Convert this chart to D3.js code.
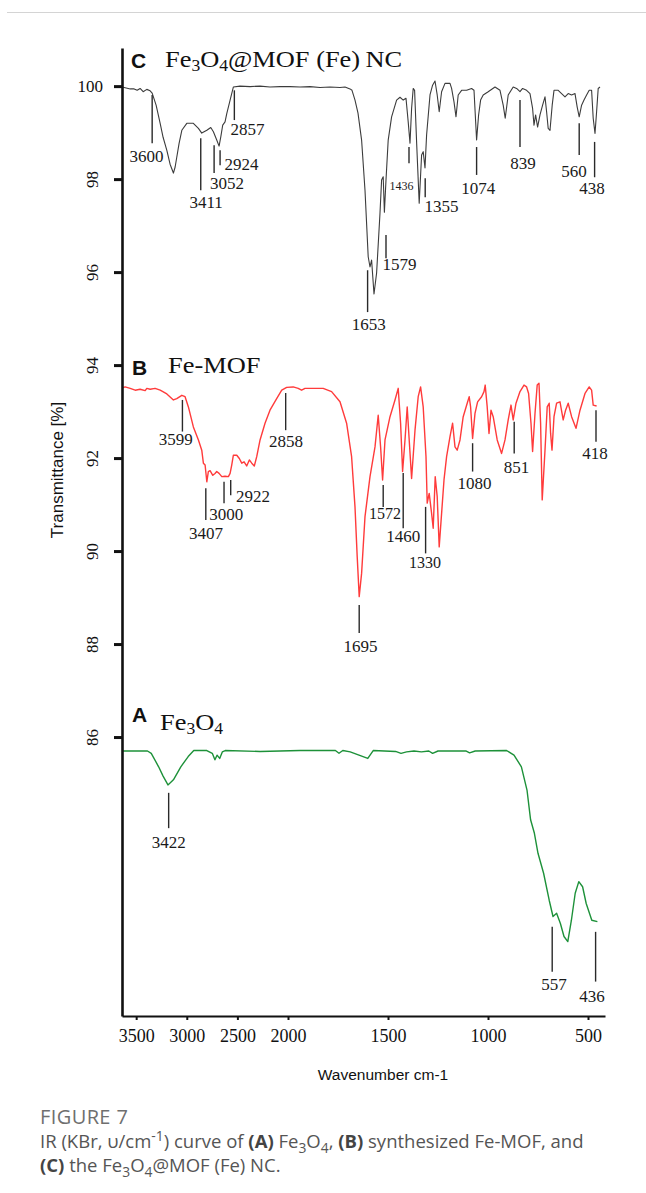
<!DOCTYPE html>
<html>
<head>
<meta charset="utf-8">
<script src="https://cdn.jsdelivr.net/npm/d3@7"></script>
<style>
  html, body { margin: 0; padding: 0; background: #fff; }
  body { width: 646px; height: 1193px; position: relative; overflow: hidden; }
  svg { position: absolute; left: 0; top: 0; }
  .caption { position: absolute; left: 40px; top: 1105px; font-family: "Open Sans", sans-serif;
             color: #555; font-size: 18.5px; line-height: 24px; }
  .caption .fig { color: #6f6f6f; font-size: 20px; letter-spacing: 0.4px; }
  .caption sub, .caption sup { font-size: 75%; line-height: 0; }
  .caption b { color: #444; }
</style>
</head>
<body>
<svg id="chart" width="646" height="1193"></svg>
<div class="caption">
  <div class="fig">FIGURE 7</div>
  IR (KBr, υ/cm<sup>-1</sup>) curve of <b>(A)</b> Fe<sub>3</sub>O<sub>4</sub>, <b>(B)</b> synthesized Fe-MOF, and<br>
  <b>(C)</b> the Fe<sub>3</sub>O<sub>4</sub>@MOF (Fe) NC.
</div>
<script>
// ---- axis ticks ----
const xTicks = [3500, 3000, 2500, 2000, 1500, 1000, 500];
const yTicks = [86, 88, 90, 92, 94, 96, 98, 100];

// ---- spectra: [wavenumber (cm-1), transmittance (%)] ----
const specC = [
  [3638,99.98],[3599,99.96],[3559,99.94],[3520,99.94],[3490,99.91],[3461,99.95],[3431,99.88],
  [3395,99.93],[3362,99.90],[3342,99.85],[3303,99.59],[3263,99.20],[3234,98.90],[3197,98.62],
  [3165,98.32],[3132,98.13],[3115,98.26],[3099,98.47],[3076,98.77],[3049,99.05],[3000,99.20],
  [2935,99.20],[2885,99.09],[2852,98.99],[2802,99.05],[2763,99.11],[2737,99.02],[2704,98.84],
  [2681,98.71],[2664,98.91],[2645,99.16],[2622,99.23],[2605,99.41],[2572,99.70],[2540,99.98],
  [2474,100.00],[2375,99.99],[2276,100.00],[2178,99.98],[2079,99.99],[1990,99.99],[1940,99.98],
  [1890,99.99],[1840,99.97],[1790,99.98],[1740,99.97],[1715,99.98],[1690,99.94],[1680,99.91],
  [1665,99.70],[1650,99.42],[1632,98.84],[1615,97.76],[1599,96.33],[1590,96.11],[1582,96.26],
  [1570,95.53],[1557,95.98],[1540,97.27],[1532,97.98],[1524,98.05],[1518,97.29],[1510,97.98],
  [1499,98.84],[1482,99.34],[1457,99.70],[1440,99.76],[1424,99.70],[1410,99.74],[1399,99.23],
  [1390,98.77],[1382,99.52],[1374,99.95],[1367,99.91],[1357,98.80],[1344,97.48],[1332,98.52],
  [1324,98.59],[1315,98.24],[1307,98.95],[1290,99.81],[1277,100.02],[1265,100.11],[1254,99.81],
  [1244,99.45],[1232,99.88],[1215,100.06],[1190,100.06],[1182,99.95],[1170,99.66],[1160,99.34],
  [1149,99.81],[1132,99.91],[1107,99.91],[1082,99.95],[1070,99.91],[1057,98.84],[1047,99.38],
  [1037,99.70],[1024,99.81],[999,99.88],[965,99.98],[940,99.91],[924,99.59],[914,99.31],
  [899,99.81],[874,99.98],[857,99.95],[840,99.88],[827,99.95],[807,99.91],[790,99.84],
  [777,99.52],[770,99.16],[762,99.38],[752,99.12],[740,99.38],[727,99.59],[715,99.77],
  [707,99.45],[699,99.09],[690,99.05],[679,99.59],[670,99.91],[649,99.91],[632,99.84],
  [615,99.77],[599,99.84],[582,99.81],[565,99.84],[554,99.55],[544,99.34],[532,99.59],
  [520,99.70],[507,99.81],[494,99.91],[482,99.91],[474,99.31],[465,98.98],[457,99.45],
  [449,99.95],[440,99.98]
];

const specB = [
  [3638,93.51],[3609,93.53],[3559,93.50],[3510,93.46],[3461,93.48],[3411,93.45],[3395,93.50],
  [3362,93.48],[3313,93.50],[3263,93.46],[3197,93.38],[3132,93.25],[3099,93.28],[3049,93.35],
  [3017,93.32],[2984,93.10],[2935,92.67],[2885,92.39],[2852,92.17],[2836,91.89],[2819,91.85],
  [2802,91.49],[2787,91.71],[2770,91.73],[2743,91.63],[2721,91.67],[2704,91.71],[2681,91.67],
  [2654,91.60],[2622,91.61],[2589,91.60],[2572,91.67],[2556,91.85],[2540,92.06],[2506,92.06],
  [2481,91.99],[2457,91.89],[2434,91.92],[2408,91.83],[2382,91.96],[2358,91.89],[2333,91.83],
  [2309,92.03],[2276,92.39],[2227,92.75],[2178,93.03],[2112,93.28],[2062,93.46],[2013,93.52],
  [1974,93.53],[1949,93.50],[1932,93.46],[1915,93.50],[1874,93.50],[1824,93.50],[1782,93.43],
  [1740,93.21],[1707,92.75],[1682,92.03],[1665,90.95],[1654,89.88],[1644,89.02],[1632,89.52],
  [1615,90.74],[1590,91.60],[1565,92.24],[1549,92.92],[1537,92.24],[1527,91.53],[1515,92.39],
  [1490,92.89],[1465,93.25],[1449,93.50],[1437,92.75],[1427,91.71],[1415,92.39],[1404,93.10],
  [1394,92.39],[1382,91.56],[1365,92.60],[1349,93.32],[1337,93.53],[1324,93.10],[1310,92.03],
  [1304,91.03],[1294,91.24],[1282,90.81],[1274,90.49],[1264,91.60],[1254,91.17],[1244,90.09],
  [1232,90.81],[1220,91.53],[1207,92.03],[1190,92.46],[1177,92.75],[1165,92.24],[1154,92.17],
  [1140,92.39],[1124,92.89],[1104,93.18],[1094,93.32],[1087,93.10],[1077,92.42],[1065,92.96],
  [1052,93.21],[1032,93.32],[1020,93.43],[1014,93.57],[1004,93.10],[995,92.53],[985,93.03],
  [974,92.89],[954,92.39],[932,92.10],[915,92.39],[899,92.82],[885,93.14],[874,92.82],
  [860,93.18],[840,93.43],[820,93.57],[807,93.53],[797,93.39],[785,92.75],[777,92.14],
  [765,92.96],[754,93.57],[745,93.61],[737,92.75],[729,91.10],[715,92.17],[704,93.10],
  [694,93.18],[687,92.53],[680,92.17],[670,92.89],[657,93.18],[640,93.21],[624,92.82],
  [612,93.03],[599,93.18],[582,92.89],[560,92.64],[540,93.03],[515,93.39],[494,93.53],
  [482,93.46],[474,93.14],[457,93.12]
];

const specA = [
  [3638,85.70],[3388,85.70],[3351,85.65],[3278,85.36],[3234,85.16],[3186,84.97],[3132,85.08],
  [3059,85.36],[2986,85.58],[2931,85.71],[2802,85.71],[2748,85.65],[2722,85.51],[2701,85.61],
  [2675,85.54],[2649,85.68],[2620,85.71],[2276,85.69],[1940,85.71],[1763,85.71],[1745,85.65],
  [1726,85.71],[1689,85.68],[1601,85.54],[1574,85.71],[1462,85.69],[1435,85.65],[1407,85.68],
  [1370,85.70],[1333,85.68],[1296,85.70],[1277,85.65],[1250,85.70],[1111,85.70],[1092,85.66],
  [1064,85.70],[907,85.71],[870,85.61],[833,85.36],[805,84.86],[787,84.22],[768,83.93],
  [750,83.50],[722,83.07],[694,82.49],[675,82.14],[657,82.21],[638,81.99],[620,81.71],
  [601,81.60],[583,82.06],[564,82.64],[546,82.89],[527,82.78],[509,82.42],[481,82.06],
  [453,82.03]
];

// ---- band labels: wavenumber text, leader (at, top..bottom) and label anchor (tx, ty) ----
const peaksC = [
  {label:"3600", at:3342, top:99.81, bottom:98.77, tx:3397, ty:98.37},
  {label:"3411", at:2862, top:98.88, bottom:97.76, tx:2809, ty:97.38},
  {label:"3052", at:2730, top:98.73, bottom:98.13, tx:2602, ty:97.78},
  {label:"2924", at:2671, top:98.62, bottom:98.30, tx:2459, ty:98.19},
  {label:"2857", at:2530, top:99.91, bottom:99.27, tx:2400, ty:98.95},
  {label:"1653", at:1602, top:96.04, bottom:95.14, tx:1596, ty:94.75},
  {label:"1579", at:1510, top:96.80, bottom:96.30, tx:1442, ty:96.04},
  {label:"1436", at:1395, top:98.69, bottom:98.34, tx:1432, ty:97.76},
  {label:"1355", at:1314, top:98.02, bottom:97.61, tx:1232, ty:97.30},
  {label:"1074", at:1057, top:98.69, bottom:98.09, tx:1049, ty:97.68},
  {label:"839",  at:840,  top:99.70, bottom:98.69, tx:825,  ty:98.21},
  {label:"560",  at:544,  top:99.20, bottom:98.52, tx:570,  ty:98.05},
  {label:"438",  at:467,  top:98.80, bottom:98.04, tx:480,  ty:97.68}
];
const peaksB = [
  {label:"3599", at:3043, top:93.25, bottom:92.57, tx:3110, ty:92.28},
  {label:"3407", at:2812, top:91.35, bottom:90.67, tx:2809, ty:90.25},
  {label:"3000", at:2632, top:91.49, bottom:91.03, tx:2609, ty:90.67},
  {label:"2922", at:2566, top:91.53, bottom:91.20, tx:2345, ty:91.05},
  {label:"2858", at:2023, top:93.40, bottom:92.60, tx:2020, ty:92.24},
  {label:"1695", at:1644, top:88.84, bottom:88.24, tx:1638, ty:87.83},
  {label:"1572", at:1524, top:91.42, bottom:90.95, tx:1515, ty:90.68},
  {label:"1460", at:1424, top:91.68, bottom:90.49, tx:1424, ty:90.20},
  {label:"1330", at:1312, top:90.95, bottom:89.95, tx:1315, ty:89.63},
  {label:"1080", at:1077, top:92.32, bottom:91.71, tx:1067, ty:91.33},
  {label:"851",  at:869,  top:92.78, bottom:92.10, tx:857,  ty:91.67},
  {label:"418",  at:460,  top:93.03, bottom:92.35, tx:465,  ty:91.97}
];
const peaksA = [
  {label:"3422", at:3179, top:84.80, bottom:84.04, tx:3179, ty:83.61},
  {label:"557",  at:679,  top:81.92, bottom:80.95, tx:670,  ty:80.56},
  {label:"436",  at:462,  top:81.81, bottom:80.74, tx:480,  ty:80.31}
];
const smallLabels = new Set(["1436"]);
const mediumLabels = new Set(["1572", "1330"]);

// ---- panel titles ----
const titleC = ["C", [["Fe"], ["3", "sub"], ["O"], ["4", "sub"], ["@MOF (Fe)\u2009NC"]]];
const titleB = ["B", [["Fe-MOF"]]];
const titleA = ["A", [["Fe"], ["3", "sub"], ["O"], ["4", "sub"]]];

// ---- layout ----
const W = 646, H = 1193;
const plot = { left: 122, split: 288, right: 605, top: 48, bottom: 1016 };
const serif = "'Liberation Serif', 'Times New Roman', serif";
const sans = "'Liberation Sans', Arial, sans-serif";

const svg = d3.select("#chart").attr("width", W).attr("height", H);

// frame rule at the top of the figure box
svg.append("line").attr("x1", 7).attr("x2", W).attr("y1", 12.5).attr("y2", 12.5)
  .attr("stroke", "#d4d4d4").attr("stroke-width", 1.2);

// wavenumber axis is compressed above 2000 cm-1
const x = d3.scaleLinear().domain([3640, 2000, 415]).range([plot.left, plot.split, plot.right]);
const y = d3.scaleLinear().domain([80, 100.82]).range([plot.bottom, plot.top]);

// spectra
const line = d3.line().x(d => x(d[0])).y(d => y(d[1]));
const series = [
  { data: specA, color: "#1d9139", width: 1.4 },
  { data: specB, color: "#ff3b3b", width: 1.4 },
  { data: specC, color: "#3c3c3c", width: 1.1 }
];
svg.append("g").selectAll("path").data(series).join("path")
  .attr("d", d => line(d.data))
  .attr("fill", "none")
  .attr("stroke", d => d.color)
  .attr("stroke-width", d => d.width)
  .attr("stroke-linejoin", "round");

// x axis
const gx = svg.append("g").attr("transform", `translate(0,${plot.bottom})`)
  .call(d3.axisBottom(x).tickValues(xTicks).tickSize(4).tickSizeOuter(0).tickPadding(9).tickFormat(d3.format("d")));
gx.select(".domain").attr("stroke", "#111").attr("stroke-width", 2);
gx.selectAll(".tick line").attr("stroke", "#111").attr("stroke-width", 2);
gx.selectAll(".tick text").attr("font-family", serif).attr("font-size", 18).attr("fill", "#111");

// y axis
const gy = svg.append("g").attr("transform", `translate(${plot.left},0)`)
  .call(d3.axisLeft(y).tickValues(yTicks).tickSize(8).tickSizeOuter(0).tickFormat(d3.format("d")));
gy.select(".domain").attr("stroke", "#111").attr("stroke-width", 2.6);
gy.selectAll(".tick line").attr("stroke", "#111").attr("stroke-width", 3);
gy.selectAll(".tick text")
  .attr("font-family", serif).attr("font-size", 17).attr("fill", "#111")
  .each(function (d) {
    const t = d3.select(this);
    if (d === 100) {
      t.attr("x", -19).attr("dy", "0.32em").attr("text-anchor", "end");
    } else {
      t.attr("x", null).attr("dy", null).attr("text-anchor", "middle")
        .attr("transform", "translate(-24,0) rotate(-90)");
    }
  });

// axis titles
svg.append("text").attr("transform", "translate(63,470) rotate(-90)")
  .attr("text-anchor", "middle").attr("font-family", sans).attr("font-size", 17)
  .attr("fill", "#111").text("Transmittance [%]");
svg.append("text").attr("x", 383).attr("y", 1080)
  .attr("text-anchor", "middle").attr("font-family", sans).attr("font-size", 15.5)
  .attr("fill", "#111").text("Wavenumber cm-1");

// band annotations
function annotate(peaks) {
  const g = svg.append("g");
  g.selectAll("line").data(peaks).join("line")
    .attr("x1", d => x(d.at)).attr("x2", d => x(d.at))
    .attr("y1", d => y(d.top)).attr("y2", d => y(d.bottom))
    .attr("stroke", "#2a2a2a").attr("stroke-width", 1.4);
  g.selectAll("text").data(peaks).join("text")
    .attr("x", d => x(d.tx)).attr("y", d => y(d.ty))
    .attr("text-anchor", "middle")
    .attr("font-family", serif)
    .attr("font-size", d => smallLabels.has(d.label) ? 12 : mediumLabels.has(d.label) ? 16 : 17)
    .attr("fill", "#1a1a1a")
    .text(d => d.label);
}
annotate(peaksC);
annotate(peaksB);
annotate(peaksA);

// panel titles
function panelTitle(title, letterX, letterBase, nameX, nameBase) {
  const [letter, parts] = title;
  svg.append("text").attr("x", letterX).attr("y", letterBase)
    .attr("font-family", sans).attr("font-weight", "bold").attr("font-size", 21)
    .attr("fill", "#111").text(letter);
  const t = svg.append("text")
    .attr("transform", `translate(${nameX},${nameBase}) scale(1.1,1)`)
    .attr("font-family", serif).attr("font-size", 24).attr("fill", "#111");
  let shifted = false;
  parts.forEach(([s, kind]) => {
    const sp = t.append("tspan").text(s);
    if (kind === "sub") {
      sp.attr("font-size", 16).attr("dy", shifted ? 0 : 4);
      shifted = true;
    } else {
      if (shifted) sp.attr("dy", -4);
      shifted = false;
    }
  });
}
panelTitle(titleC, 131, 68, 165, 67);
panelTitle(titleB, 132, 375, 168, 373);
panelTitle(titleA, 132, 722, 160, 730);
</script>
</body>
</html>
